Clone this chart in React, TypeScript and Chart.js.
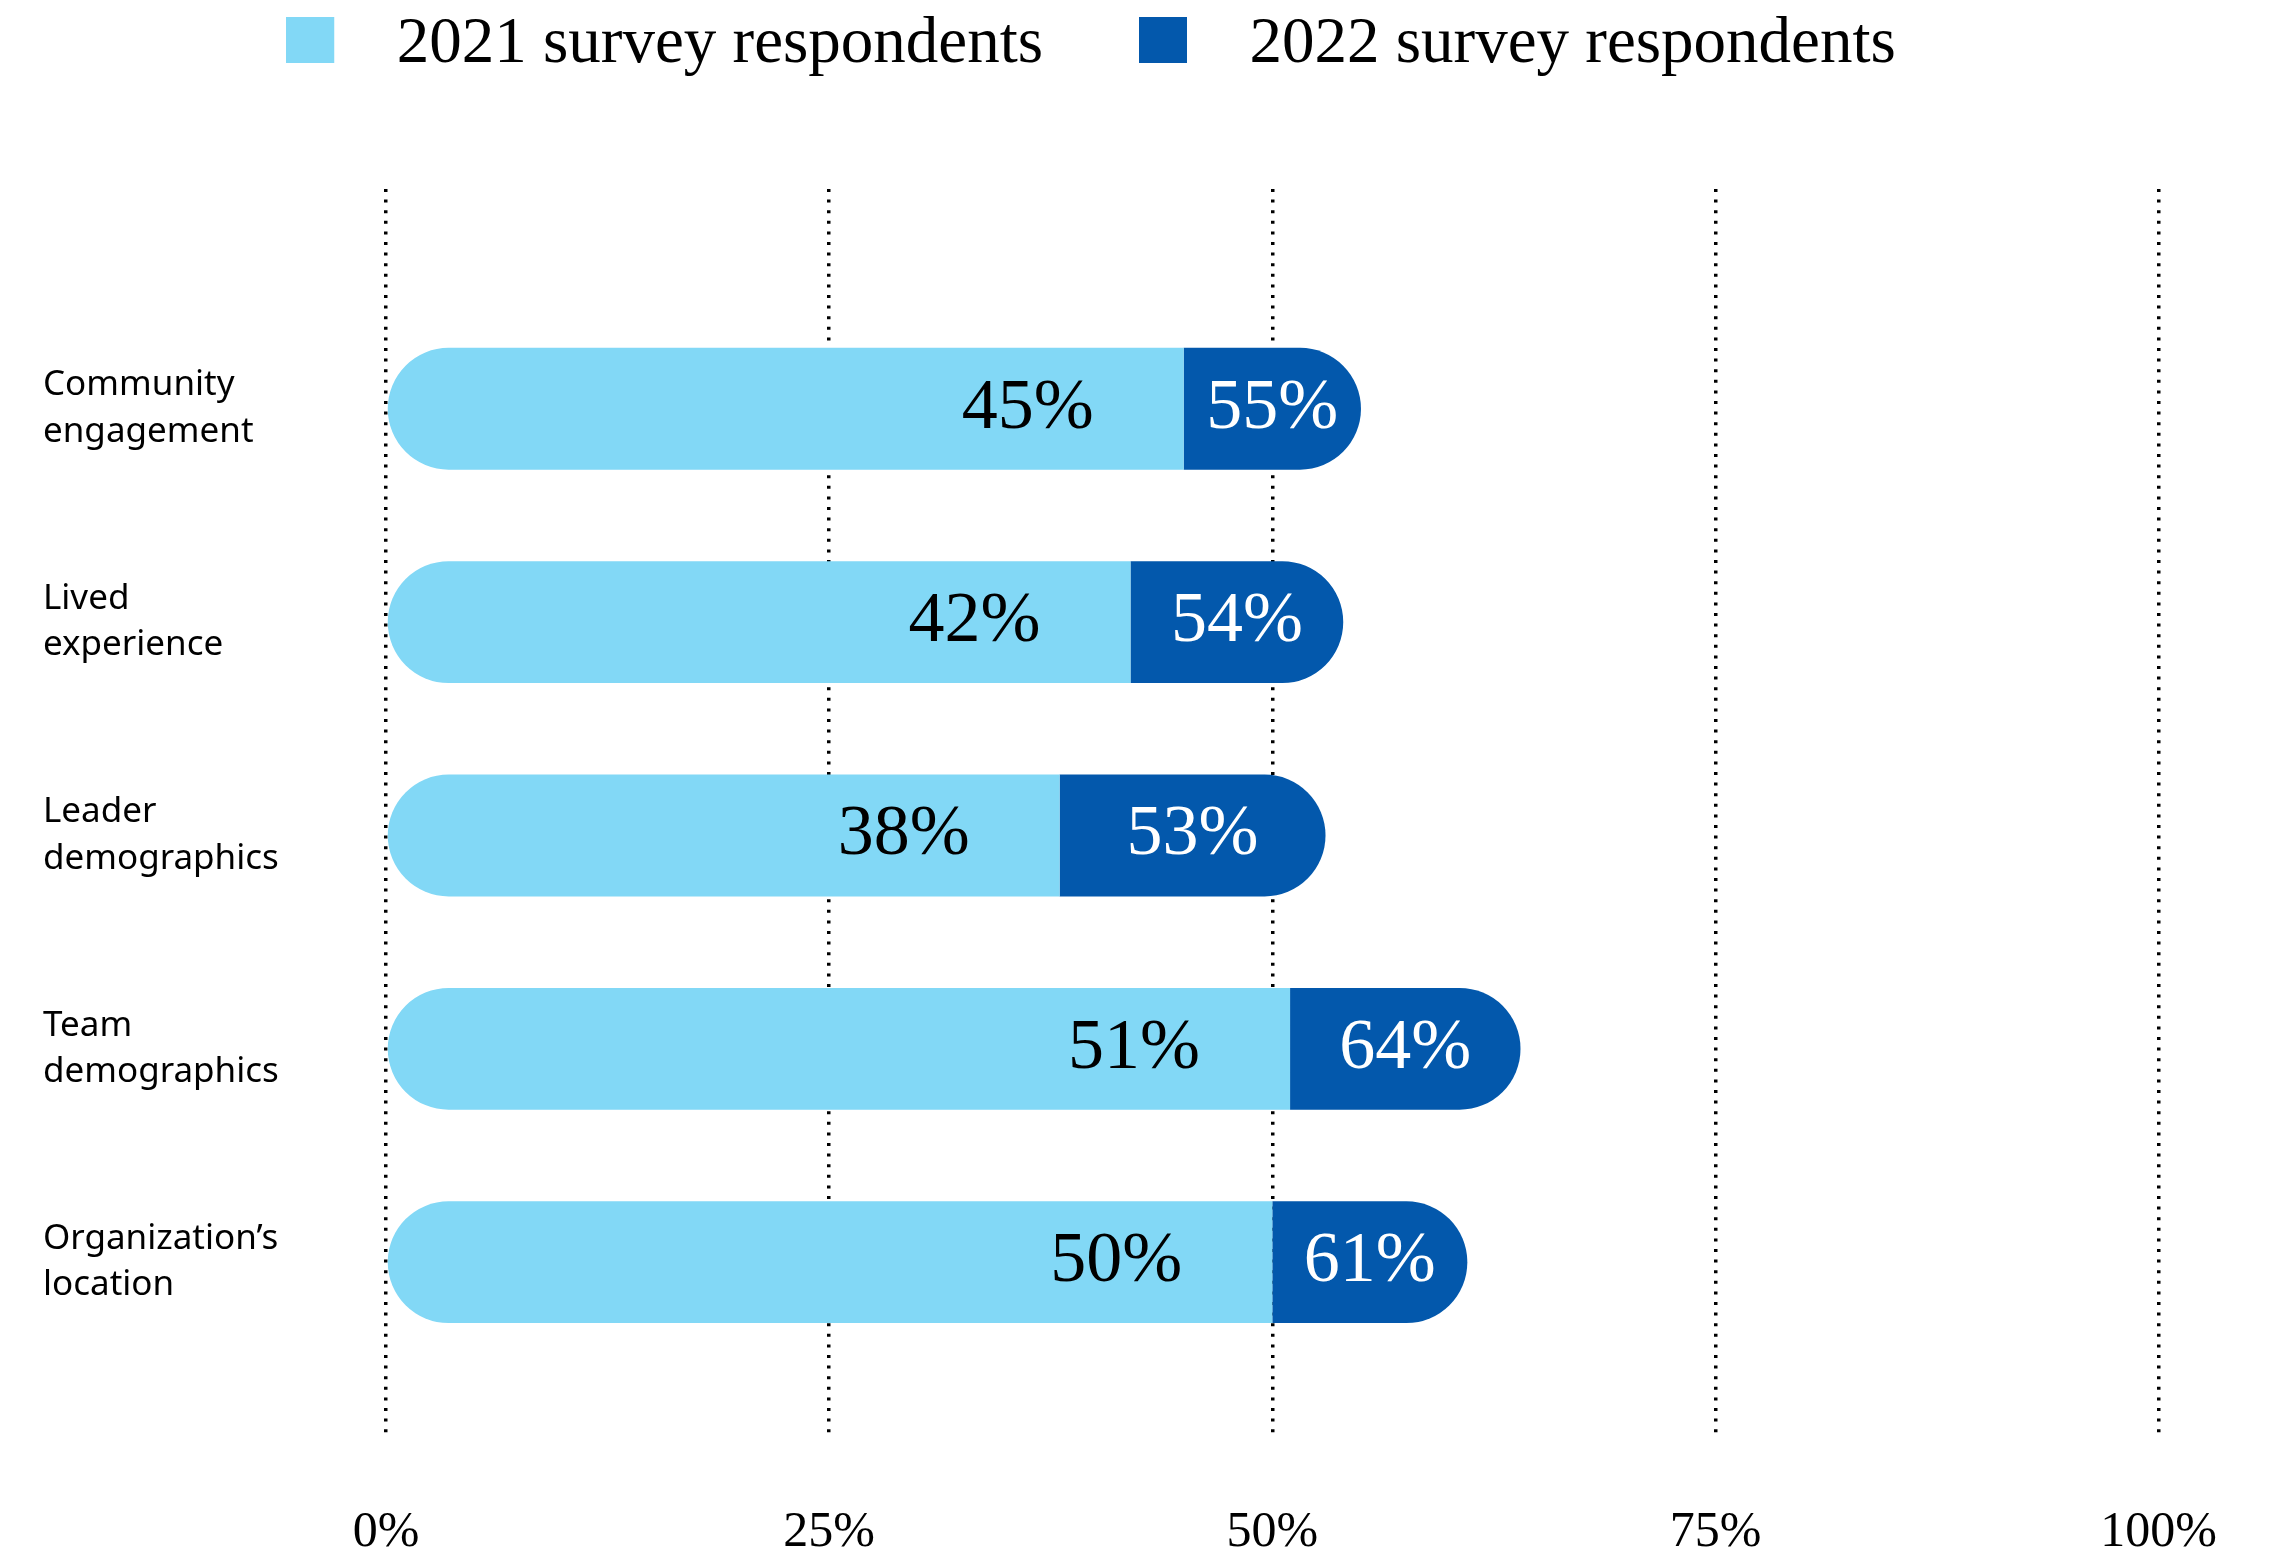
import React, { useEffect, useRef } from 'react';
import { Chart, registerables } from 'chart.js';

Chart.register(...registerables);

// ---- data ----
const CATEGORIES: string[][] = [
  ['Community', 'engagement'],
  ['Lived', 'experience'],
  ['Leader', 'demographics'],
  ['Team', 'demographics'],
  ['Organization’s', 'location'],
];
const SERIES_NAMES = ['2021 survey respondents', '2022 survey respondents'];
const VALUES_2021 = [45, 42, 38, 51, 50];
const VALUES_2022 = [55, 54, 53, 64, 61];
const X_TICK_STEP = 25;

// ---- style ----
const LIGHT = '#82D8F6';
const DARK = '#0358AC';
const SERIF = '"Liberation Serif", serif';
const SANS = '"Noto Sans", sans-serif';
const W = 2285;
const H = 1556;

function makeSwatch(color: string): HTMLCanvasElement {
  const c = document.createElement('canvas');
  c.width = 105;
  c.height = 56;
  const g = c.getContext('2d')!;
  g.fillStyle = color;
  g.fillRect(0, 0, 48, 46);
  return c;
}

const valueLabels = {
  id: 'valueLabels',
  afterDatasetsDraw(chart: any) {
    const ctx = chart.ctx;
    const m0 = chart.getDatasetMeta(0);
    const m1 = chart.getDatasetMeta(1);
    ctx.save();
    ctx.font = `72px ${SERIF}`;
    ctx.textBaseline = 'middle';
    m0.data.forEach((bar0: any, i: number) => {
      const bar1 = m1.data[i];
      ctx.textAlign = 'right';
      ctx.fillStyle = '#000';
      ctx.fillText(`${VALUES_2021[i]}%`, bar0.x - 90, bar0.y);
      ctx.textAlign = 'center';
      ctx.fillStyle = '#fff';
      ctx.fillText(`${VALUES_2022[i]}%`, (bar1.base + bar1.x) / 2, bar1.y);
    });
    ctx.restore();
  },
};

export default function App() {
  const ref = useRef<HTMLCanvasElement | null>(null);

  useEffect(() => {
    document.body.style.margin = '0';
    const swatches = [makeSwatch(LIGHT), makeSwatch(DARK)];
    const chart = new Chart(ref.current!, {
      type: 'bar',
      data: {
        datasets: [
          {
            label: SERIES_NAMES[0],
            data: VALUES_2021.map((v, i) => ({ x: v, y: i })),
            backgroundColor: LIGHT,
            borderSkipped: false,
            borderRadius: { topLeft: 999, bottomLeft: 999, topRight: 0, bottomRight: 0 },
            grouped: false,
            categoryPercentage: 1,
            barPercentage: 0.571,
            xAxisID: 'x',
            yAxisID: 'y',
          },
          {
            label: SERIES_NAMES[1],
            // 2022 segment drawn from the 2021 value up to the 2022 value
            data: VALUES_2022.map((v, i) => ({ x: [VALUES_2021[i], v], y: i })),
            backgroundColor: DARK,
            borderSkipped: false,
            borderRadius: { topLeft: 0, bottomLeft: 0, topRight: 999, bottomRight: 999 },
            grouped: false,
            categoryPercentage: 1,
            barPercentage: 0.571,
            xAxisID: 'x',
            yAxisID: 'y',
          },
        ],
      } as any,
      options: {
        indexAxis: 'y',
        animation: false,
        responsive: false,
        layout: { padding: { top: -110.5, left: 43, right: 119, bottom: 0 } },
        plugins: {
          tooltip: { enabled: false },
          legend: {
            display: true,
            position: 'top',
            align: 'center',
            labels: {
              usePointStyle: true,
              pointStyleWidth: 51,
              boxHeight: 46,
              padding: 123,
              color: '#000',
              font: { family: SERIF, size: 65 },
              generateLabels: (c: any) =>
                (Chart.defaults.plugins.legend.labels as any)
                  .generateLabels(c)
                  .map((it: any, i: number) => ({ ...it, pointStyle: swatches[i] })),
            },
          },
        },
        scales: {
          x: {
            type: 'linear',
            position: 'bottom',
            min: 0,
            max: 100,
            ticks: {
              stepSize: X_TICK_STEP,
              callback: (v: any) => `${v}%`,
              color: '#000',
              font: { family: SERIF, size: 50 },
              padding: 68,
              maxRotation: 0,
            },
            grid: { color: '#000', lineWidth: 3.5, drawTicks: false },
            border: { display: false, dash: [3, 7.6] },
            afterFit: (s: any) => {
              s.height = 121;
            },
          },
          xTop: {
            type: 'linear',
            position: 'top',
            display: true,
            grid: { display: false },
            ticks: { display: false },
            border: { display: false },
            afterFit: (s: any) => {
              s.height = 101.5;
            },
          },
          y: {
            type: 'linear',
            reverse: true,
            offset: false,
            min: -1.03,
            max: 4.81,
            afterBuildTicks: (s: any) => {
              s.ticks = CATEGORIES.map((_, i) => ({ value: i }));
            },
            ticks: {
              autoSkip: false,
              crossAlign: 'far',
              color: '#000',
              font: { family: SANS, size: 35, lineHeight: 1.33 },
              callback: (v: any) => CATEGORIES[v] ?? '',
            },
            grid: { display: false },
            border: { display: false },
            afterFit: (s: any) => {
              s.width = 343;
            },
          },
        },
      } as any,
      plugins: [valueLabels],
    });
    return () => chart.destroy();
  }, []);

  return (
    <div style={{ width: W, height: H }}>
      <canvas ref={ref} width={W} height={H} style={{ display: 'block' }} />
    </div>
  );
}
